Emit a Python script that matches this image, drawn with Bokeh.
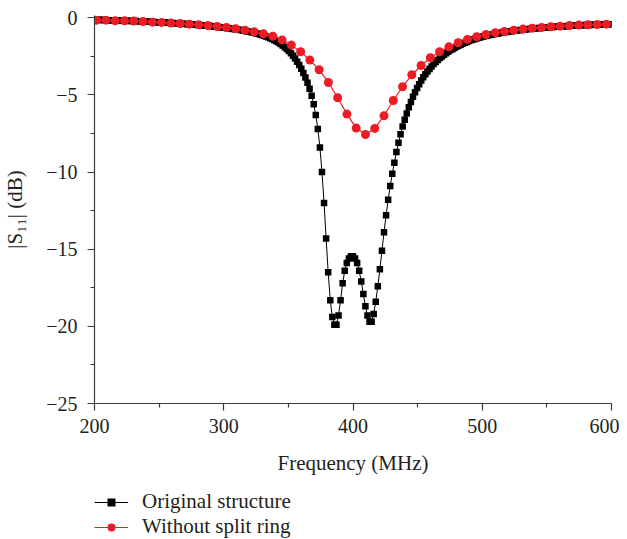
import numpy as np
from bokeh.plotting import figure
from bokeh.layouts import column
from bokeh.models import Legend, LegendItem, Range1d, FixedTicker
from bokeh.embed import file_html
from bokeh.resources import INLINE

# ---- data ----
freq_black = np.linspace(200.0, 600.0, 251)   # 1.6 MHz sampling
s11_original = [
    -0.13, -0.13, -0.13, -0.14, -0.14, -0.14, -0.15, -0.15, -0.15, -0.16,
    -0.16, -0.17, -0.17, -0.18, -0.18, -0.19, -0.19, -0.20, -0.20, -0.21,
    -0.21, -0.22, -0.22, -0.23, -0.24, -0.24, -0.25, -0.26, -0.26, -0.27,
    -0.28, -0.28, -0.29, -0.30, -0.31, -0.31, -0.32, -0.33, -0.34, -0.35,
    -0.36, -0.37, -0.38, -0.39, -0.40, -0.41, -0.42, -0.43, -0.44, -0.45,
    -0.46, -0.47, -0.48, -0.49, -0.51, -0.52, -0.53, -0.55, -0.56, -0.58,
    -0.59, -0.61, -0.62, -0.64, -0.66, -0.68, -0.70, -0.72, -0.74, -0.76,
    -0.78, -0.80, -0.83, -0.85, -0.88, -0.91, -0.94, -0.97, -1.00, -1.04,
    -1.08, -1.12, -1.16, -1.21, -1.26, -1.32, -1.38, -1.45, -1.52, -1.60,
    -1.69, -1.79, -1.90, -2.02, -2.15, -2.30, -2.46, -2.64, -2.84, -3.06,
    -3.30, -3.57, -3.87, -4.21, -4.60, -5.05, -5.60, -6.30, -7.20, -8.40,
    -10.0, -12.0, -14.3, -16.5, -18.3, -19.4, -19.9, -19.9, -19.3, -18.3,
    -17.2, -16.4, -15.9, -15.6, -15.45, -15.45, -15.6, -15.9, -16.4, -17.1,
    -17.9, -18.7, -19.3, -19.7, -19.7, -19.2, -18.4, -17.4, -16.3, -15.1,
    -13.9, -12.8, -11.8, -10.9, -10.1, -9.4, -8.7, -8.1, -7.55, -7.05,
    -6.6, -6.2, -5.8, -5.45, -5.12, -4.82, -4.55, -4.30, -4.07, -3.86,
    -3.66, -3.48, -3.31, -3.15, -3.00, -2.86, -2.73, -2.61, -2.50, -2.39,
    -2.29, -2.20, -2.11, -2.03, -1.95, -1.88, -1.81, -1.74, -1.68, -1.62,
    -1.56, -1.51, -1.46, -1.41, -1.37, -1.33, -1.29, -1.25, -1.21, -1.18,
    -1.15, -1.12, -1.09, -1.06, -1.03, -1.01, -0.98, -0.96, -0.94, -0.92,
    -0.90, -0.88, -0.86, -0.84, -0.82, -0.80, -0.79, -0.77, -0.76, -0.74,
    -0.73, -0.71, -0.70, -0.69, -0.67, -0.66, -0.65, -0.64, -0.63, -0.62,
    -0.61, -0.60, -0.59, -0.58, -0.57, -0.56, -0.55, -0.54, -0.54, -0.53,
    -0.52, -0.51, -0.51, -0.50, -0.49, -0.49, -0.48, -0.47, -0.47, -0.46,
    -0.46, -0.45, -0.45, -0.44, -0.44, -0.43, -0.43, -0.42, -0.42, -0.41,
    -0.41,
]

freq_red = np.linspace(201.7, 596.1, 56)
s11_no_ring = [
    -0.15, -0.15, -0.19, -0.19, -0.21, -0.24, -0.28, -0.30, -0.34, -0.37,
    -0.41, -0.45, -0.50, -0.56, -0.63, -0.71, -0.80, -0.91, -1.04, -1.19,
    -1.43, -1.77, -2.20, -2.74, -3.37, -4.19, -5.18, -6.24, -7.15, -7.56,
    -7.17, -6.35, -5.36, -4.47, -3.69, -3.09, -2.59, -2.20, -1.88, -1.62,
    -1.40, -1.23, -1.08, -0.97, -0.89, -0.80, -0.73, -0.67, -0.63, -0.58,
    -0.54, -0.50, -0.47, -0.45, -0.43, -0.41,
]

x_ticks = [200, 300, 400, 500, 600]
x_minor = [250, 350, 450, 550]
y_ticks = [-25, -20, -15, -10, -5, 0]
y_minor = [-22.5, -17.5, -12.5, -7.5, -2.5]
y_tick_labels = {v: (str(v).replace("-", "\u2212")) for v in y_ticks}

label_original = "Original structure"
label_no_ring = "Without split ring"

FONT = "Liberation Serif"
TXT = "#231F20"
AX = "#3a3a3a"
RED = "#ED1C24"

BLACK_STYLE = dict(line_color="black", line_width=1)
BLACK_MARK = dict(marker="square", size=6.5, fill_color="black", line_color="black", line_width=0)
RED_STYLE = dict(line_color=RED, line_width=1.2)
RED_MARK = dict(marker="circle", size=9, fill_color=RED, line_color=RED, line_width=0)

# ---- main plot ----
p = figure(width=619, height=480, output_backend="svg", toolbar_location=None,
           x_range=Range1d(200, 600), y_range=Range1d(-25, 0.15),
           min_border_left=92, min_border_right=8, min_border_top=15,
           min_border_bottom=77)
p.outline_line_color = None
p.grid.visible = False
p.background_fill_color = "white"

p.line(freq_black, s11_original, **BLACK_STYLE)
p.scatter(freq_black, s11_original, **BLACK_MARK)
p.line(freq_red, s11_no_ring, **RED_STYLE)
p.scatter(freq_red, s11_no_ring, **RED_MARK)

for ax in (p.xaxis[0], p.yaxis[0]):
    ax.axis_line_color = AX
    ax.axis_line_width = 1.2
    ax.major_tick_line_color = AX
    ax.minor_tick_line_color = AX
    ax.major_tick_line_width = 1.2
    ax.minor_tick_line_width = 1.2
    ax.major_tick_out = 7
    ax.major_tick_in = 0
    ax.minor_tick_out = 4
    ax.minor_tick_in = 0
    ax.major_label_text_font = FONT
    ax.major_label_text_font_size = "20px"
    ax.major_label_text_color = TXT
    ax.axis_label_text_font = FONT
    ax.axis_label_text_font_size = "21px"
    ax.axis_label_text_font_style = "normal"
    ax.axis_label_text_color = TXT

p.xaxis.ticker = FixedTicker(ticks=x_ticks, minor_ticks=x_minor)
p.yaxis.ticker = FixedTicker(ticks=y_ticks, minor_ticks=y_minor)
p.yaxis.major_label_overrides = y_tick_labels
p.xaxis.axis_label = "Frequency (MHz)"
p.yaxis.axis_label = "|S\u2081\u2081| (dB)"
p.xaxis.major_label_standoff = 8
p.yaxis.major_label_standoff = 10
p.xaxis.axis_label_standoff = 15
p.yaxis.axis_label_standoff = 16

# ---- legend strip below (its renderers use the same data, outside its empty range) ----
q = figure(width=619, height=59, output_backend="svg", toolbar_location=None,
           x_range=Range1d(0, 1), y_range=Range1d(0, 1),
           x_axis_location=None, y_axis_location=None,
           min_border_left=92, min_border_right=8, min_border_top=0,
           min_border_bottom=0)
q.outline_line_color = None
q.grid.visible = False
ql1 = q.line(freq_black, s11_original, **BLACK_STYLE)
qm1 = q.scatter(freq_black, s11_original, **BLACK_MARK)
ql2 = q.line(freq_red, s11_no_ring, **RED_STYLE)
qm2 = q.scatter(freq_red, s11_no_ring, **RED_MARK)

legend = Legend(items=[LegendItem(label=label_original, renderers=[ql1, qm1]),
                       LegendItem(label=label_no_ring, renderers=[ql2, qm2])],
                location=(0, 0), orientation="vertical")
legend.border_line_color = None
legend.background_fill_alpha = 0
legend.padding = 0
legend.margin = 0
legend.spacing = 0
legend.glyph_width = 34
legend.glyph_height = 20
legend.label_height = 20
legend.label_standoff = 14
legend.label_text_font = FONT
legend.label_text_font_size = "21px"
legend.label_text_color = TXT
q.add_layout(legend, "center")

layout = column(p, q, spacing=0)
open("out.html", "w").write(file_html(layout, INLINE))
